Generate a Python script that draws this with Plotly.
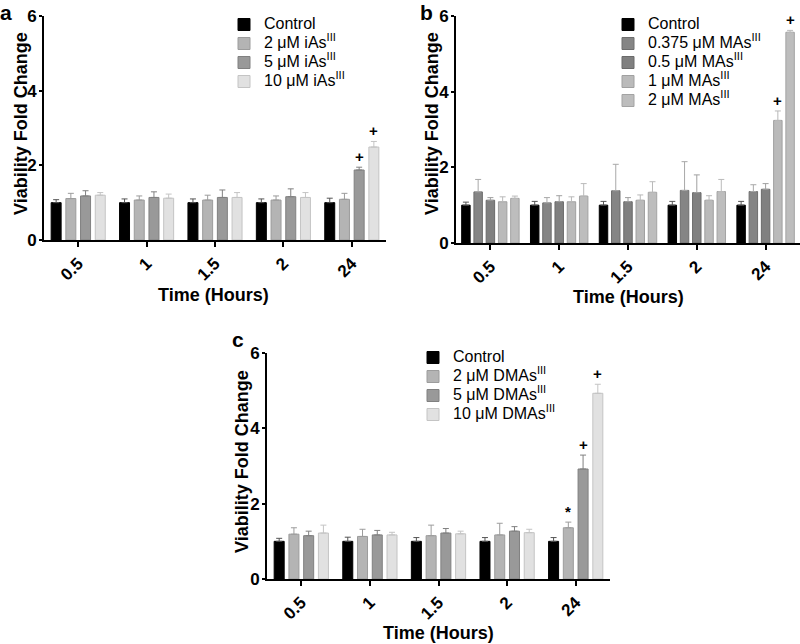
import plotly.graph_objects as go

times = ["0.5", "1", "1.5", "2", "24"]

# Panel a (iAs III)
a_names = ["Control", "2 μM iAs<sup>III</sup>", "5 μM iAs<sup>III</sup>", "10 μM iAs<sup>III</sup>"]
a_control = [1.0, 1.0, 1.0, 1.0, 1.0]
a_control_err = [0.08, 0.10, 0.10, 0.10, 0.12]
a_2 = [1.11, 1.07, 1.07, 1.07, 1.09]
a_2_err = [0.14, 0.11, 0.13, 0.11, 0.16]
a_5 = [1.18, 1.14, 1.14, 1.16, 1.875]
a_5_err = [0.14, 0.15, 0.20, 0.21, 0.075]
a_10 = [1.20, 1.12, 1.14, 1.14, 2.49]
a_10_err = [0.07, 0.11, 0.13, 0.13, 0.15]
a_sig = [["", "", "", "", ""], ["", "", "", "", ""], ["", "", "", "", "+"], ["", "", "", "", "+"]]

# Panel b (MAs III)
b_names = ["Control", "0.375 μM MAs<sup>III</sup>", "0.5 μM MAs<sup>III</sup>", "1 μM MAs<sup>III</sup>", "2 μM MAs<sup>III</sup>"]
b_control = [1.0, 1.0, 1.0, 1.0, 1.0]
b_control_err = [0.08, 0.10, 0.10, 0.10, 0.10]
b_0375 = [1.35, 1.06, 1.38, 1.39, 1.36]
b_0375_err = [0.33, 0.14, 0.70, 0.76, 0.18]
b_05 = [1.13, 1.09, 1.09, 1.33, 1.42]
b_05_err = [0.07, 0.16, 0.11, 0.47, 0.15]
b_1 = [1.09, 1.09, 1.13, 1.13, 3.24]
b_1_err = [0.13, 0.13, 0.14, 0.12, 0.25]
b_2 = [1.18, 1.24, 1.34, 1.36, 5.57]
b_2_err = [0.06, 0.33, 0.28, 0.32, 0.05]
b_sig = [["", "", "", "", ""], ["", "", "", "", ""], ["", "", "", "", ""], ["", "", "", "", "+"], ["", "", "", "", "+"]]

# Panel c (DMAs III)
c_names = ["Control", "2 μM DMAs<sup>III</sup>", "5 μM DMAs<sup>III</sup>", "10 μM DMAs<sup>III</sup>"]
c_control = [1.0, 1.0, 1.0, 1.0, 1.0]
c_control_err = [0.08, 0.11, 0.10, 0.10, 0.10]
c_2 = [1.19, 1.13, 1.15, 1.17, 1.36]
c_2_err = [0.17, 0.19, 0.28, 0.31, 0.15]
c_5 = [1.15, 1.17, 1.22, 1.27, 2.92]
c_5_err = [0.12, 0.12, 0.12, 0.12, 0.37]
c_10 = [1.22, 1.17, 1.20, 1.23, 4.93]
c_10_err = [0.21, 0.07, 0.07, 0.09, 0.24]
c_sig = [["", "", "", "", ""], ["", "", "", "", "*"], ["", "", "", "", "+"], ["", "", "", "", "+"]]

x_title = "Time (Hours)"
y_title = "Viability Fold Change"
panel_letters = ["a", "b", "c"]

FONT = "Liberation Sans, Arial, sans-serif"

styles4 = [  # fill, outline, errorbar
    ("#000000", "#000000", "#555555"),
    ("#b4b4b4", "#9c9c9c", "#9c9c9c"),
    ("#999999", "#808080", "#808080"),
    ("#e1e1e1", "#c4c4c4", "#c4c4c4"),
]
styles5 = [
    ("#000000", "#000000", "#555555"),
    ("#858585", "#6e6e6e", "#a8a8a8"),
    ("#808080", "#6a6a6a", "#a0a0a0"),
    ("#bababa", "#a0a0a0", "#b8b8b8"),
    ("#bdbdbd", "#a3a3a3", "#bababa"),
]

def big(s):
    return '<span style="font-size:16px">' + s + '</span>'

W, H = 800, 644
def xd(l, r):
    return [l / W, r / W]
def yd(t, b):
    return [1 - b / H, 1 - t / H]

fig = go.Figure()

panels = [
    dict(names=a_names, vals=[a_control, a_2, a_5, a_10], errs=[a_control_err, a_2_err, a_5_err, a_10_err],
         sig=a_sig, styles=styles4, ax="", legend="legend", width=0.146, pitch=0.215,
         xdom=(44, 386), ydom=(16, 240), ytitle=(21, 124), xtitle=(213, 295), letter=(6, 12)),
    dict(names=b_names, vals=[b_control, b_0375, b_05, b_1, b_2], errs=[b_control_err, b_0375_err, b_05_err, b_1_err, b_2_err],
         sig=b_sig, styles=styles5, ax="2", legend="legend2", width=0.123, pitch=0.178,
         xdom=(456, 800), ydom=(16, 243), ytitle=(432, 124), xtitle=(628, 297), letter=(427, 12)),
    dict(names=c_names, vals=[c_control, c_2, c_5, c_10], errs=[c_control_err, c_2_err, c_5_err, c_10_err],
         sig=c_sig, styles=styles4, ax="3", legend="legend3", width=0.146, pitch=0.215,
         xdom=(267, 610), ydom=(353, 579), ytitle=(242, 462), xtitle=(438, 633), letter=(238, 339)),
]

annotations = []
for pi, p in enumerate(panels):
    n = len(p["vals"])
    for i in range(n):
        centre = (i - (n - 1) / 2) * p["pitch"]
        fill, line, ecol = p["styles"][i]
        fig.add_trace(go.Bar(
            x=times, y=p["vals"][i], name=big(p["names"][i]),
            xaxis="x" + p["ax"], yaxis="y" + p["ax"], legend=p["legend"],
            width=p["width"], offset=centre - p["width"] / 2,
            marker=dict(color=fill, line=dict(color=line, width=1)),
            error_y=dict(type="data", symmetric=False, array=p["errs"][i],
                         arrayminus=[0] * len(times), color=ecol, thickness=1, width=3),
        ))
        for k, s in enumerate(p["sig"][i]):
            if s:
                annotations.append(dict(
                    x=k + centre, y=p["vals"][i][k] + p["errs"][i][k],
                    xref="x" + p["ax"], yref="y" + p["ax"], text="<b>" + s + "</b>",
                    showarrow=False, yanchor="bottom", yshift=0,
                    font=dict(family=FONT, size=15, color="#000000")))
    tf = dict(family=FONT, size=18, color="#000000")
    annotations.append(dict(x=p["ytitle"][0] / W, y=1 - p["ytitle"][1] / H, xref="paper", yref="paper",
                            text="<b>" + y_title + "</b>", textangle=-90, showarrow=False,
                            xanchor="center", yanchor="middle", font=tf))
    annotations.append(dict(x=p["xtitle"][0] / W, y=1 - p["xtitle"][1] / H, xref="paper", yref="paper",
                            text="<b>" + x_title + "</b>", showarrow=False,
                            xanchor="center", yanchor="middle", font=tf))
    annotations.append(dict(x=p["letter"][0] / W, y=1 - p["letter"][1] / H, xref="paper", yref="paper",
                            text="<b>" + panel_letters[pi] + "</b>", showarrow=False,
                            xanchor="center", yanchor="middle", font=dict(family=FONT, size=21, color="#000000")))

xcommon = dict(type="category", range=[-0.5, 4.5], showline=True, linecolor="#000000", linewidth=2,
               ticks="outside", ticklen=5, tickwidth=1.5, tickcolor="#000000", tickangle=-45,
               tickfont=dict(family=FONT, size=17, color="#000000", weight="bold"),
               showgrid=False, zeroline=False, fixedrange=True, automargin=False)
ycommon = dict(range=[0, 6], tickvals=[0, 2, 4, 6], showline=True, linecolor="#000000", linewidth=2,
               ticks="outside", ticklen=3, tickwidth=2, tickcolor="#000000", ticklabelstandoff=-1,
               tickfont=dict(family=FONT, size=17, color="#000000", weight="bold"),
               showgrid=False, zeroline=False, fixedrange=True, automargin=False)

legcommon = dict(font=dict(family=FONT, size=12, color="#000000"), bgcolor="rgba(0,0,0,0)",
                 xanchor="left", yanchor="top", tracegroupgap=0, itemclick=False, itemdoubleclick=False)

layout_axes = {}
for p in panels:
    layout_axes["xaxis" + p["ax"]] = dict(xcommon, domain=xd(*p["xdom"]), anchor="y" + p["ax"])
    layout_axes["yaxis" + p["ax"]] = dict(ycommon, domain=yd(*p["ydom"]), anchor="x" + p["ax"])

fig.update_layout(
    width=W, height=H, margin=dict(l=0, r=0, t=0, b=0, autoexpand=False),
    paper_bgcolor="#ffffff", plot_bgcolor="#ffffff",
    barmode="overlay", showlegend=True, hovermode=False,
    legend=dict(legcommon, x=224 / W, y=1 - 10 / H),
    legend2=dict(legcommon, x=608 / W, y=1 - 10 / H),
    legend3=dict(legcommon, x=413 / W, y=1 - 343 / H),
    annotations=annotations,
    **layout_axes,
)

fig.write_html("out.html", config={"displayModeBar": False},
               post_script="document.body.style.margin='0';document.body.style.overflow='hidden';")
